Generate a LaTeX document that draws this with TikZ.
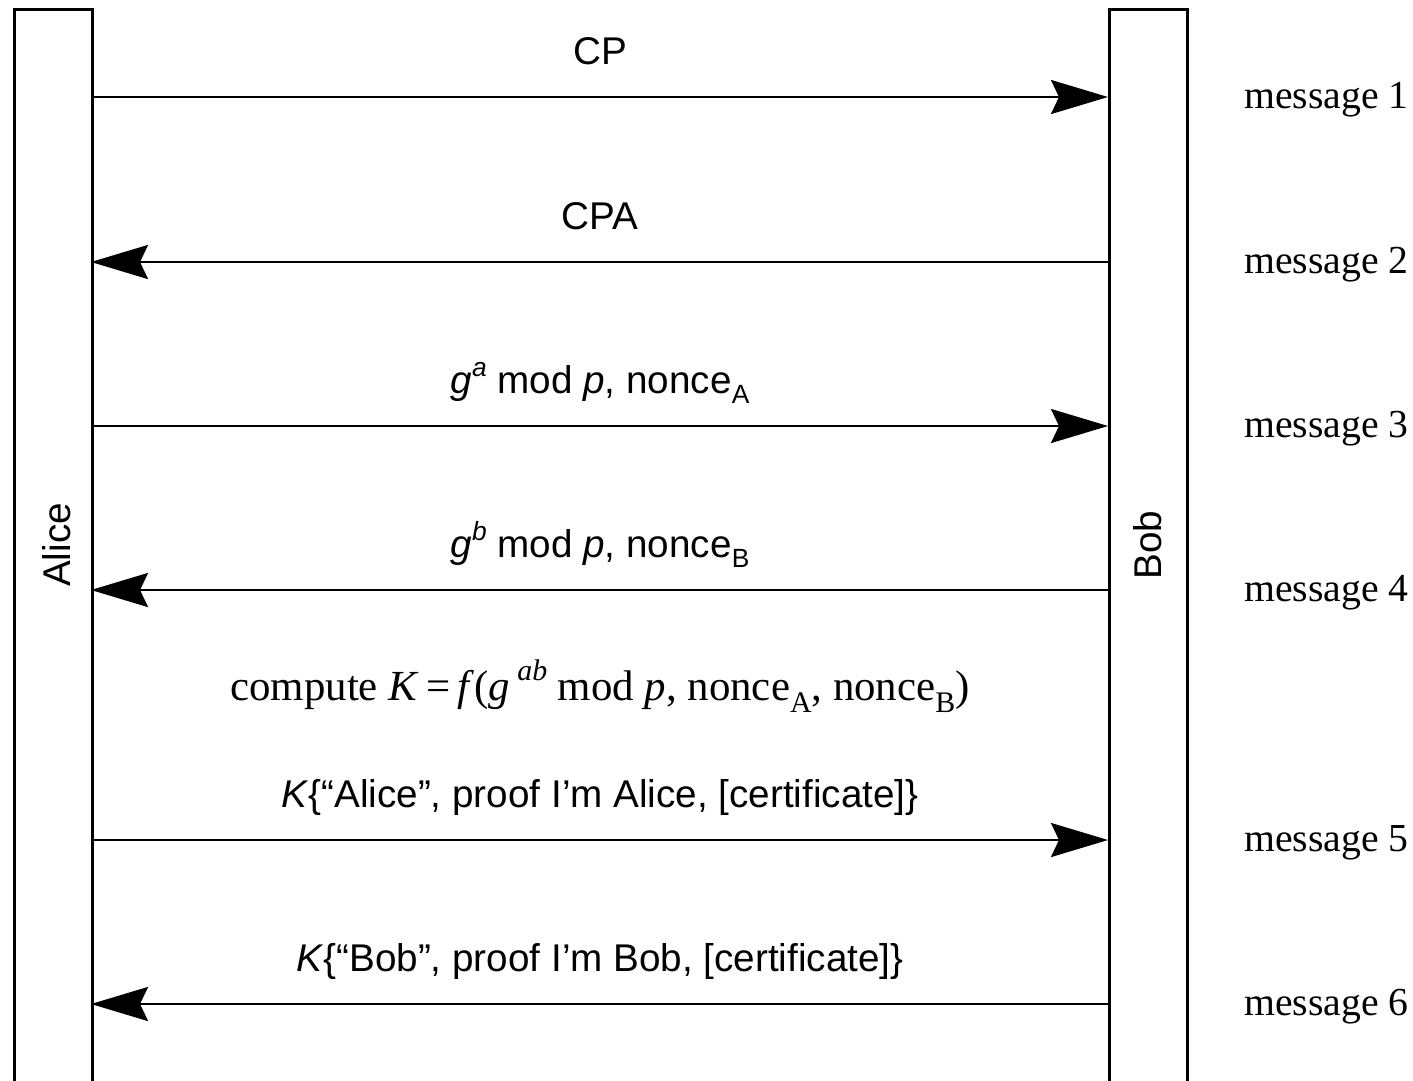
\documentclass[tikz,border=0pt]{standalone}
\usepackage{fontspec}
\setmainfont{Liberation Serif}
\setsansfont{Liberation Sans}
\usetikzlibrary{arrows.meta}
\newcommand\upidx[1]{\raisebox{0.42em}{\fontsize{15}{15}\selectfont #1}}
\newcommand\dnidx[1]{\raisebox{-0.28em}{\fontsize{15}{15}\selectfont #1}}
\newcommand\upidxs[1]{\raisebox{0.45em}{\fontsize{17}{17}\selectfont #1}}
\newcommand\dnidxs[1]{\raisebox{-0.28em}{\fontsize{17}{17}\selectfont #1}}
\begin{document}
\begin{tikzpicture}[x=0.02cm,y=-0.02cm,
  lane/.style={draw, line width=1.9pt, minimum width=1.56cm, minimum height=22.4cm,
    anchor=north west, inner sep=0pt},
  msg/.style={line width=1.6pt, -{Stealth[length=1.14cm, width=0.68cm, inset=0.16cm]}},
  msgtext/.style={font=\fontsize{22}{26}\sffamily\selectfont, anchor=base},
  tag/.style={font=\fontsize{22.6}{27}\selectfont, anchor=base west},
  who/.style={font=\fontsize{22}{26}\sffamily\selectfont, rotate=90}]
  \useasboundingbox[fill=white] (0,0) rectangle (1413,1080);
  \clip (0,0) rectangle (1413,1080);

  % the two parties
  \node[lane] (alice) at (13,8) {};
  \node[lane] (bob) at (1108,8) {};
  \node[who] (alicename) at (57,545) {Alice};
  \node[who] (bobname) at (1148,545) {Bob};

  % attachment points on the lanes
  \foreach \i/\y in {1/97,2/262,3/426,4/590,5/840,6/1004} {
    \coordinate (a\i) at (91,\y);
    \coordinate (b\i) at (1108,\y);
  }

  % messages
  \draw[msg] (a1) -- (b1);
  \draw[msg] (b2) -- (a2);
  \draw[msg] (a3) -- (b3);
  \draw[msg] (b4) -- (a4);
  \draw[msg] (a5) -- (b5);
  \draw[msg] (b6) -- (a6);

  % message contents
  \node[msgtext] (t1) at (600,64) {CP};
  \node[msgtext] (t2) at (600,229) {CPA};
  \node[msgtext] (t3) at (600,393) {\textit{g}\upidx{\textit{a}} mod \textit{p}, nonce\dnidx{A}};
  \node[msgtext] (t4) at (600,557) {\textit{g}\upidx{\textit{b}} mod \textit{p}, nonce\dnidx{B}};
  \node[font=\fontsize{24.4}{29}\selectfont, anchor=base] (key) at (600,700)
    {compute \textit{K}\,=\,\textit{f}(\textit{g}\,\upidxs{\textit{ab}} mod \textit{p}, nonce\dnidxs{A}, nonce\dnidxs{B})};
  \node[msgtext] (t5) at (600,807) {\textit{K}\{“Alice”, proof I’m Alice, [certificate]\}};
  \node[msgtext] (t6) at (600,971) {\textit{K}\{“Bob”, proof I’m Bob, [certificate]\}};

  % message numbers
  \foreach \i/\y in {1/97,2/262,3/426,4/590,5/840,6/1004}
    \node[tag] (m\i) at (1238,\y+11) {message \i};
\end{tikzpicture}
\end{document}
